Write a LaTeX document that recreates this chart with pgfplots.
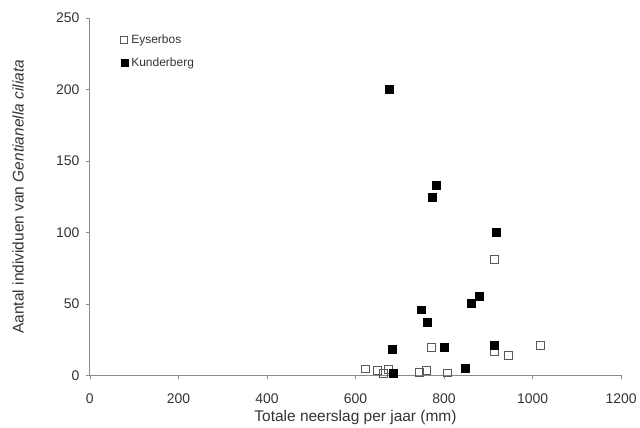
\documentclass[border=0pt]{standalone}
\usepackage{pgfplots}
\pgfplotsset{compat=1.18}
\usepackage{fontspec}
\setmainfont{Liberation Sans}
\definecolor{txt}{HTML}{333333}
\definecolor{axl}{HTML}{8A8A8A}
\begin{document}
\begin{tikzpicture}
\begin{axis}[
  at={(0,0)}, anchor=origin,
  scale only axis, width=532pt, height=358pt,
  xmin=0, xmax=1200, ymin=0, ymax=250,
  axis x line*=bottom, axis y line*=left,
  axis line style={axl, line width=0.8pt, -},
  xtick={0,200,...,1200}, ytick={0,50,...,250},
  tick align=outside, major tick length=4pt,
  tick style={axl, line width=0.7pt},
  /pgf/number format/assume math mode=true,
  /pgf/number format/1000 sep={},
  ticklabel style={font=\fontsize{14}{16}\selectfont, text=txt},
  xticklabel style={yshift=-11pt},
  yticklabel style={xshift=-3pt},
  xlabel={Totale neerslag per jaar (mm)},
  ylabel={Aantal individuen van \textit{Gentianella ciliata}},
  label style={font=\fontsize{15.5}{17}\selectfont, text=txt},
  xlabel style={at={(0.5,0)}, anchor=center, yshift=-42pt},
  ylabel style={at={(0,0.5)}, anchor=center, yshift=72pt},
  clip=false,
  legend style={at={(0.056,0.962)}, anchor=north west, draw=none, fill=none,
    font=\fontsize{12}{14}\selectfont, text=txt, row sep=9pt,
    legend cell align=left, inner sep=1pt,
    nodes={inner xsep=3.5pt}},
  legend image code/.code={\draw[#1, mark size=3.5pt] plot coordinates {(0.15cm,0cm)};},
]
\addplot[only marks, mark=square, mark size=4pt, mark options={draw=black!65, fill=white, line width=0.8pt}]
coordinates {(622,4.6) (650,3.7) (662,1.4) (675,4) (744,2.3) (760,3.7) (772,19.7) (807,1.8) (914,81) (914,17) (946,14) (1018,21)};
\addlegendentry{Eyserbos}
\addplot[only marks, mark=square*, mark size=4pt, mark options={draw=black, fill=black}]
coordinates {(677,200) (783,133) (774,125) (918,100) (880,55.5) (861,50.5) (748,46) (761,37) (683,18.5) (801,19.7) (914,21) (848,5.3) (686,1.8)};
\addlegendentry{Kunderberg}
\end{axis}
\path[use as bounding box] (-90pt,-46pt) rectangle (550pt,376pt);
\end{tikzpicture}
\end{document}
